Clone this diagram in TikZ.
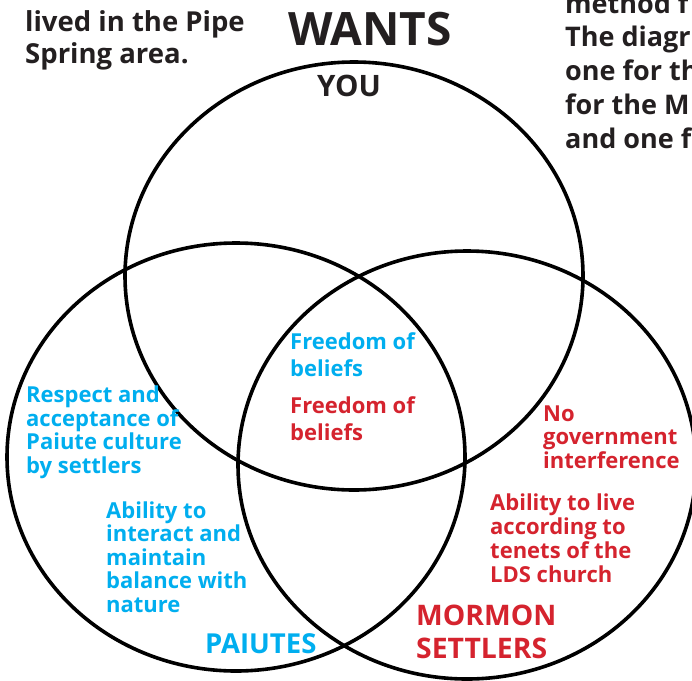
\documentclass[tikz,border=0pt]{standalone}
\usepackage{fontspec}
\setmainfont{Open Sans}
\definecolor{pblue}{RGB}{0,174,239}
\definecolor{mred}{RGB}{213,35,46}
\definecolor{ink}{RGB}{35,31,32}
\begin{document}
\begin{tikzpicture}[x=1pt,y=-1pt,
  ring/.style={draw=black, line width=3.6pt},
  blk/.style={inner sep=0pt, anchor=base west, align=left},
  small/.style={blk, font=\bfseries\fontsize{22}{23.5}\selectfont},
  head/.style={blk, text=ink, font=\bfseries\fontsize{27.5}{31.5}\selectfont}]
\useasboundingbox (0,0) rectangle (692,680);
\clip (0,0) rectangle (692,680);
\fill[white] (0,0) rectangle (692,680);
% circles
\draw[ring] (354,276) ellipse [x radius=229, y radius=214];
\draw[ring] (236,457) ellipse [x radius=229, y radius=214];
\draw[ring] (467,465) ellipse [x radius=229, y radius=214];
% header texts (anchor = baseline of last line)
\node[head] (intro) at (25,63) {lived in the Pipe\\Spring area.};
\node[head, font=\bfseries\fontsize{27}{33.7}\selectfont] (method) at (565,148) {method f\\The diagr\\one for th\\for the M\\and one f};
\node[inner sep=0pt, anchor=base, text=ink, font=\bfseries\fontsize{46}{50}\selectfont] (wants) at (370,45) {WANTS};
\node[inner sep=0pt, anchor=base, text=ink, font=\bfseries\fontsize{29.5}{30}\selectfont] (you) at (349,96) {YOU};
% centre
\node[small, text=pblue, font=\bfseries\fontsize{22}{26.7}\selectfont] (fb1) at (290,376) {Freedom of\\beliefs};
\node[small, text=mred, font=\bfseries\fontsize{22}{26.7}\selectfont] (fb2) at (290,440) {Freedom of\\beliefs};
% Paiutes
\node[small, text=pblue] (respect) at (26,473) {Respect and\\acceptance of\\Paiute culture\\by settlers};
\node[small, text=pblue] (nature) at (106,612) {Ability to\\interact and\\maintain\\balance with\\nature};
\node[blk, text=pblue, font=\bfseries\fontsize{27.5}{30}\selectfont] (paiutes) at (205,653) {PAIUTES};
% Mormons
\node[small, text=mred] (nogov) at (543,468) {No\\government\\interference};
\node[small, text=mred, font=\bfseries\fontsize{22}{24}\selectfont] (lds) at (490,582) {Ability to live\\according to\\tenets of the\\LDS church};
\node[blk, text=mred, font=\bfseries\fontsize{28.3}{33}\selectfont] (mormon) at (416,658) {MORMON\\SETTLERS};
\end{tikzpicture}
\end{document}
